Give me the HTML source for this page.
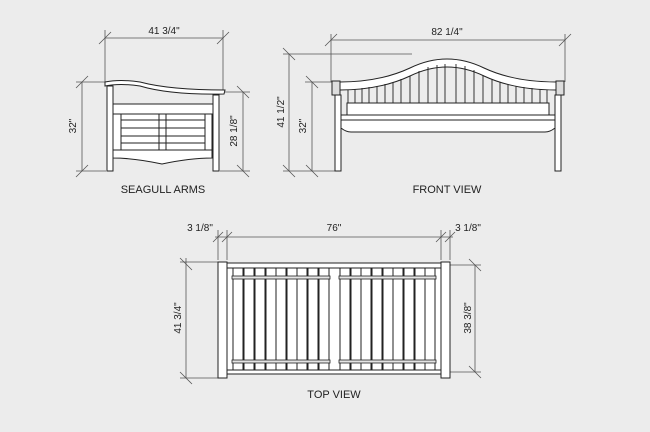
<!DOCTYPE html>
<html><head><meta charset="utf-8"><style>
html,body{margin:0;padding:0;background:#ececec;}
svg{display:block;}
text{font-family:"Liberation Sans",sans-serif;fill:#222;}
</style></head><body>
<svg width="650" height="432" viewBox="0 0 650 432" xmlns="http://www.w3.org/2000/svg">
<rect width="650" height="432" fill="#ececec"/>
<g stroke="#555" stroke-width="0.8" fill="none">
<line x1="105" y1="38" x2="223" y2="38"/>
<line x1="105" y1="30" x2="105" y2="82"/><line x1="223" y1="30" x2="223" y2="92"/>
<line x1="99" y1="44" x2="111" y2="32"/><line x1="217" y1="44" x2="229" y2="32"/>
<line x1="76" y1="82" x2="105" y2="82"/><line x1="82" y1="82" x2="82" y2="171"/>
<line x1="76" y1="88" x2="88" y2="76"/><line x1="76" y1="177" x2="88" y2="165"/>
<line x1="76" y1="171" x2="106" y2="171"/>
<line x1="223" y1="92" x2="250" y2="92"/><line x1="243" y1="92" x2="243" y2="171"/>
<line x1="237" y1="86" x2="249" y2="98"/><line x1="237" y1="165" x2="249" y2="177"/>
<line x1="220" y1="171" x2="250" y2="171"/>
<line x1="331" y1="40" x2="565" y2="40"/>
<line x1="331" y1="34" x2="331" y2="82"/><line x1="565" y1="34" x2="565" y2="82"/>
<line x1="325" y1="46" x2="337" y2="34"/><line x1="559" y1="46" x2="571" y2="34"/>
<line x1="283" y1="54" x2="412" y2="54"/><line x1="289" y1="54" x2="289" y2="171"/>
<line x1="283" y1="48" x2="295" y2="60"/><line x1="283" y1="165" x2="295" y2="177"/>
<line x1="305" y1="82" x2="333" y2="82"/><line x1="312" y1="82" x2="312" y2="171"/>
<line x1="306" y1="76" x2="318" y2="88"/><line x1="306" y1="165" x2="318" y2="177"/>
<line x1="283" y1="171" x2="335" y2="171"/>
<line x1="215" y1="237" x2="453" y2="237"/>
<line x1="218" y1="230" x2="218" y2="260"/><line x1="227" y1="230" x2="227" y2="260"/>
<line x1="441" y1="230" x2="441" y2="260"/><line x1="450" y1="230" x2="450" y2="260"/>
<line x1="213" y1="242" x2="223" y2="232"/><line x1="222" y1="242" x2="232" y2="232"/>
<line x1="436" y1="242" x2="446" y2="232"/><line x1="445" y1="242" x2="455" y2="232"/>
<line x1="180" y1="262" x2="218" y2="262"/><line x1="186" y1="258" x2="186" y2="378"/>
<line x1="180" y1="258" x2="192" y2="270"/><line x1="180" y1="372" x2="192" y2="384"/>
<line x1="180" y1="378" x2="218" y2="378"/>
<line x1="450" y1="265" x2="481" y2="265"/><line x1="475" y1="265" x2="475" y2="372"/>
<line x1="469" y1="259" x2="481" y2="271"/><line x1="469" y1="366" x2="481" y2="378"/>
<line x1="450" y1="372" x2="481" y2="372"/>
</g>
<g font-size="10" text-anchor="middle">
<text x="164" y="34">41 3/4"</text>
<text x="447" y="35">82 1/4"</text>
<text x="200" y="231">3 1/8"</text>
<text x="334" y="231">76"</text>
<text x="468" y="231">3 1/8"</text>
<text transform="translate(76,126) rotate(-90)">32"</text>
<text transform="translate(237,131) rotate(-90)">28 1/8"</text>
<text transform="translate(284,112) rotate(-90)">41 1/2"</text>
<text transform="translate(306,126) rotate(-90)">32"</text>
<text transform="translate(181,318) rotate(-90)">41 3/4"</text>
<text transform="translate(471,318) rotate(-90)">38 3/8"</text>
<text x="163" y="193" font-size="11">SEAGULL ARMS</text>
<text x="447" y="193" font-size="11">FRONT VIEW</text>
<text x="334" y="398" font-size="11">TOP VIEW</text>
</g>
<g stroke="#222" stroke-width="1" fill="#fff">
<rect x="107" y="86" width="6" height="85"/>
<rect x="213" y="95" width="6" height="76"/>
<rect x="113" y="104" width="100" height="10"/>
<path d="M113 150 L212 150 L212 158 Q190 158 162 164 Q134 158 113 158 Z"/>
<rect x="113" y="114" width="99" height="36"/>
<line x1="121" y1="114" x2="121" y2="150"/><line x1="159" y1="114" x2="159" y2="150"/>
<line x1="166" y1="114" x2="166" y2="150"/><line x1="205" y1="114" x2="205" y2="150"/>
<line x1="121" y1="120" x2="205" y2="120"/><line x1="121" y1="128" x2="205" y2="128"/>
<line x1="121" y1="136" x2="205" y2="136"/><line x1="121" y1="143" x2="205" y2="143"/>
<path d="M105 82 Q120 79 140 82 Q170 90 225 90 L224 94 Q170 95 140 86 Q120 83 105 86 Z"/>
</g>
<g stroke="#222" stroke-width="1" fill="#fff">
<rect x="335" y="95" width="6" height="76"/>
<rect x="555" y="95" width="6" height="76"/>
<path d="M340 82 Q380 82 410 68 Q447 50 484 68 Q514 82 556 82 L556 90 Q514 90 484 76 Q447 58 410 76 Q380 90 340 90 Z"/>
<g stroke-width="0.9">
<line x1="348" y1="90" x2="348" y2="103"/><line x1="355" y1="89" x2="355" y2="103"/>
<line x1="362" y1="88" x2="362" y2="103"/><line x1="369" y1="87" x2="369" y2="103"/>
<line x1="377" y1="86" x2="377" y2="103"/><line x1="385" y1="84" x2="385" y2="103"/>
<line x1="393" y1="82" x2="393" y2="103"/><line x1="401" y1="79" x2="401" y2="103"/>
<line x1="410" y1="76" x2="410" y2="103"/><line x1="419" y1="71" x2="419" y2="103"/>
<line x1="428" y1="67" x2="428" y2="103"/><line x1="437" y1="65" x2="437" y2="103"/>
<line x1="445" y1="64" x2="445" y2="103"/><line x1="456" y1="64" x2="456" y2="103"/>
<line x1="465" y1="66" x2="465" y2="103"/><line x1="474" y1="70" x2="474" y2="103"/>
<line x1="483" y1="75" x2="483" y2="103"/><line x1="492" y1="79" x2="492" y2="103"/>
<line x1="500" y1="82" x2="500" y2="103"/><line x1="508" y1="84" x2="508" y2="103"/>
<line x1="516" y1="86" x2="516" y2="103"/><line x1="524" y1="87" x2="524" y2="103"/>
<line x1="532" y1="88" x2="532" y2="103"/><line x1="540" y1="89" x2="540" y2="103"/>
<line x1="547" y1="90" x2="547" y2="103"/>
</g>
<rect x="332" y="81" width="8" height="14" fill="#ddd"/>
<rect x="556" y="81" width="8" height="14" fill="#ddd"/>
<path d="M341 115 L555 115 L555 128 Q550 132 545 132 L351 132 Q346 132 341 128 Z"/>
<rect x="347" y="103" width="202" height="12"/>
<line x1="341" y1="120" x2="555" y2="120"/>
</g>
<g stroke="#222" stroke-width="1" fill="#fff">
<rect x="227" y="263" width="214" height="111"/>
<line x1="227" y1="268" x2="441" y2="268"/>
<line x1="227" y1="370" x2="441" y2="370"/>
<g stroke-width="1">
<rect x="233" y="268" width="10" height="102"/><rect x="244" y="268" width="10" height="102"/>
<rect x="255" y="268" width="10" height="102"/><rect x="266" y="268" width="10" height="102"/>
<rect x="276" y="268" width="10" height="102"/><rect x="287" y="268" width="10" height="102"/>
<rect x="297" y="268" width="10" height="102"/><rect x="308" y="268" width="10" height="102"/>
<rect x="319" y="268" width="10" height="102"/>
<rect x="340" y="268" width="10" height="102"/><rect x="351" y="268" width="10" height="102"/>
<rect x="361" y="268" width="10" height="102"/><rect x="372" y="268" width="10" height="102"/>
<rect x="383" y="268" width="10" height="102"/><rect x="393" y="268" width="10" height="102"/>
<rect x="404" y="268" width="10" height="102"/><rect x="415" y="268" width="10" height="102"/>
<rect x="425" y="268" width="10" height="102"/>
</g>
<rect x="232" y="276" width="98" height="3" fill="#e4e4e4" stroke-width="0.8"/>
<rect x="339" y="276" width="97" height="3" fill="#e4e4e4" stroke-width="0.8"/>
<rect x="232" y="360" width="98" height="3" fill="#e4e4e4" stroke-width="0.8"/>
<rect x="339" y="360" width="97" height="3" fill="#e4e4e4" stroke-width="0.8"/>
<rect x="218" y="262" width="9" height="116"/>
<rect x="441" y="262" width="9" height="116"/>
</g>
</svg>
</body></html>
